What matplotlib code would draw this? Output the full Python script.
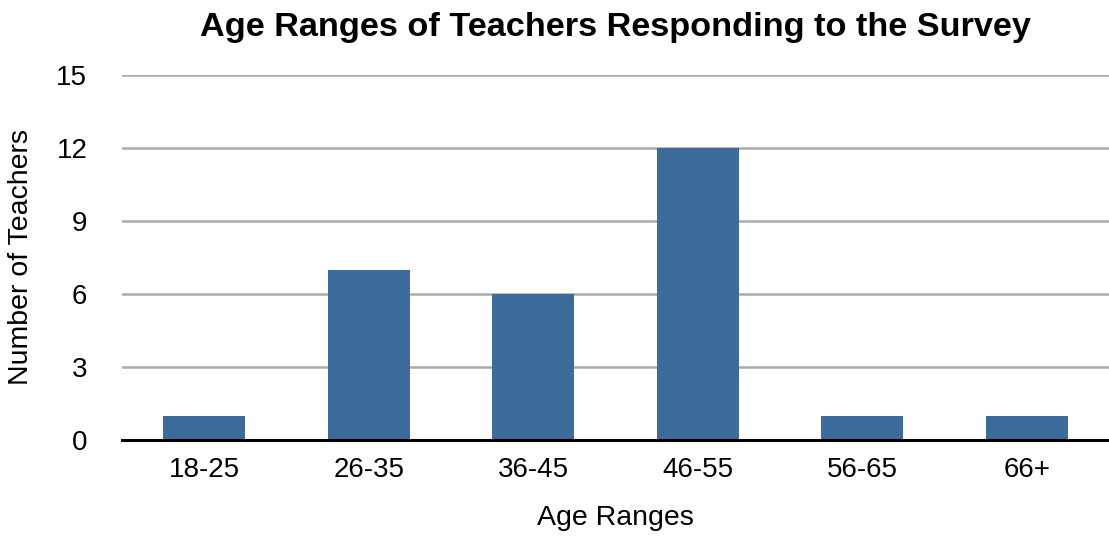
import matplotlib.pyplot as plt
import numpy as np

ages = ['18-25', '26-35', '36-45', '46-55', '56-65', '66+']
teachers = [1, 7, 6, 12, 1, 1]
yticks = [0, 3, 6, 9, 12, 15]

plt.rcParams['font.family'] = ['Liberation Sans', 'DejaVu Sans']

fig = plt.figure(figsize=(11.09, 5.42), dpi=100)
ax = fig.add_axes([0.110, 0.188, 0.890, 0.674])

x = np.arange(len(ages))
ax.bar(x, teachers, width=0.5, color='#3d6b9b', zorder=3)

ax.set_xlim(-0.5, len(ages) - 0.5)
ax.set_ylim(0, 15)
ax.set_yticks(yticks)
ax.set_xticks(x)
ax.set_xticklabels(ages)
ax.tick_params(axis='both', length=0, labelsize=20)
ax.tick_params(axis='x', pad=12)
ax.tick_params(axis='y', pad=25)

ax.grid(axis='y', color='#aaaaaa', linewidth=1.8, zorder=0)
for s in ['top', 'right', 'left']:
    ax.spines[s].set_visible(False)
ax.spines['bottom'].set_linewidth(2.2)
ax.spines['bottom'].set_zorder(4)

ax.set_xlabel('Age Ranges', fontsize=20.5, labelpad=16)
ax.set_ylabel('Number of Teachers', fontsize=20.5, labelpad=16)
ax.set_title('Age Ranges of Teachers Responding to the Survey',
             fontsize=24.7, fontweight='bold', pad=28)

fig.savefig('out.png', dpi=100)
